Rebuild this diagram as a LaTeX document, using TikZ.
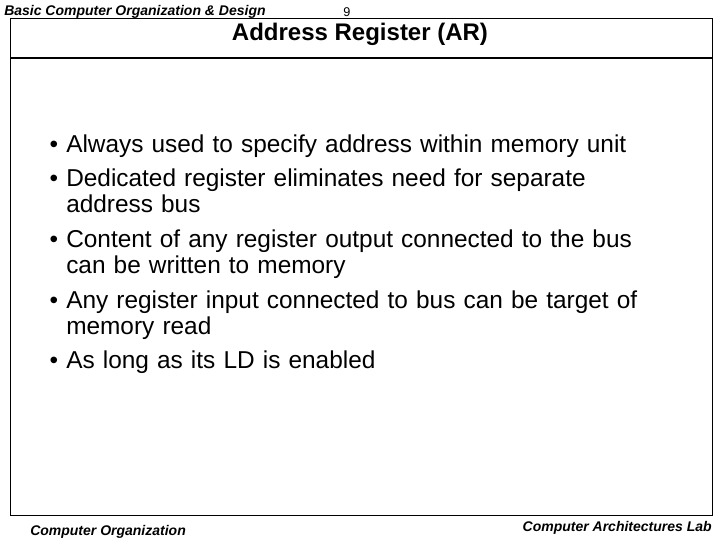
\documentclass[tikz,border=0pt]{standalone}
\usepackage{fontspec}
\setmainfont{Liberation Sans}
\usepackage{tikz}
\tikzstyle{hdr}=[anchor=base west, inner sep=0pt, font=\fontsize{10.5}{12}\selectfont\bfseries\itshape]
\tikzstyle{item}=[anchor=north west, inner sep=0pt, text width=470pt, align=left, font=\fontsize{18.3}{19.5}\selectfont]
\newenvironment{slidelist}{\begin{list}{\textbullet}{\setlength{\leftmargin}{16.5pt}\setlength{\labelsep}{6pt}\setlength{\labelwidth}{10pt}\setlength{\itemsep}{6.5pt}\setlength{\parsep}{0pt}\setlength{\topsep}{0pt}}}{\end{list}}
\begin{document}
\begin{tikzpicture}[x=0.75pt, y=-0.75pt]
                    \useasboundingbox (0,0) rectangle (720,540);
                    \draw[line width=0.6pt] (10,18) rectangle (712,515);
                    \draw[line width=2.2pt] (10,58) -- (712,58);
                    \node[hdr] (course) at (4,15) {Basic Computer Organization \& Design};
                    \node[anchor=base, inner sep=0pt, font=\fontsize{9.5}{11}\selectfont] (page) at (347,16) {9};
                    \node[anchor=base, inner sep=0pt, font=\fontsize{18}{20}\selectfont\bfseries] (title) at (360,40) {Address Register (AR)};
                    \node[item] (b1) at (44,126) {%
                      \begin{slidelist}
                        \item Always used to specify address within memory unit
                        \item Dedicated register eliminates need for separate address bus
                        \item Content of any register output connected to the bus can be written to memory
                        \item Any register input connected to bus can be target of memory read
                        \item As long as its LD is enabled
                      \end{slidelist}};
                    \node[hdr] (footl) at (30,535) {Computer Organization};
                    \node[hdr, anchor=base east] (footr) at (712,531) {Computer Architectures Lab};
                \end{tikzpicture}
\end{document}
